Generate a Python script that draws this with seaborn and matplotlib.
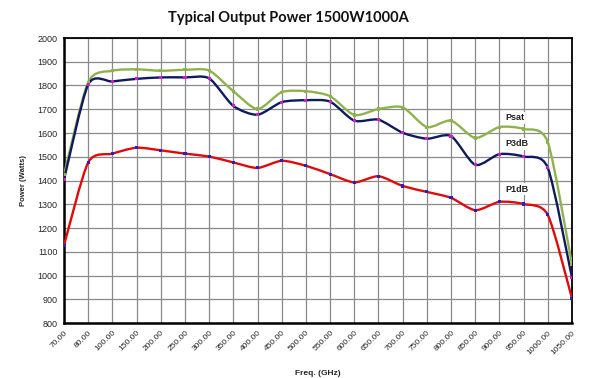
import numpy as np
import pandas as pd
import seaborn as sns
import matplotlib
matplotlib.use("Agg")
import matplotlib.pyplot as plt
from matplotlib.path import Path
from matplotlib.patches import PathPatch

freq_labels = ["70.00", "80.00", "100.00", "150.00", "200.00", "250.00", "300.00",
               "350.00", "400.00", "450.00", "500.00", "550.00", "600.00", "650.00",
               "700.00", "750.00", "800.00", "850.00", "900.00", "950.00", "1000.00",
               "1050.00"]
psat = [1424, 1814, 1862, 1868, 1862, 1866, 1863, 1776, 1701, 1772, 1776, 1755,
        1676, 1701, 1708, 1625, 1652, 1579, 1625, 1617, 1561, 1046]
p3db = [1404, 1804, 1817, 1828, 1834, 1834, 1830, 1714, 1677, 1730, 1738, 1732,
        1652, 1656, 1601, 1576, 1587, 1466, 1511, 1501, 1453, 990]
p1db = [1127, 1476, 1513, 1538, 1527, 1513, 1501, 1476, 1453, 1483, 1462, 1427,
        1392, 1418, 1377, 1352, 1327, 1275, 1310, 1301, 1255, 903]
series_names = ["Psat", "P3dB", "P1dB"]
line_colors = ["#8fb34c", "#0d1a5e", "#e00a0a"]
marker_colors = ["#8fb34c", "#d21ad2", "#2020d0"]
label_pos = [(18.23, 1664), (18.23, 1554), (18.23, 1364)]

sns.set_style("white")
plt.rcParams['font.family'] = ['Liberation Sans', 'DejaVu Sans']

fig = plt.figure(figsize=(6, 3.78), dpi=100)
ax = fig.add_axes([64 / 600, 1 - 323 / 378, (572 - 64) / 600, (323 - 38) / 378])

idx = np.arange(len(freq_labels))
df = pd.concat([pd.DataFrame({"idx": idx, "power": vals, "series": name})
                for name, vals in zip(series_names, [psat, p3db, p1db])])


def smooth_path(xs, ys, k=8.0):
    pts = np.column_stack([xs, ys]).astype(float)
    n = len(pts)
    verts = [pts[0]]
    codes = [Path.MOVETO]
    for i in range(n - 1):
        p0 = pts[i - 1] if i > 0 else pts[i]
        p1 = pts[i]
        p2 = pts[i + 1]
        p3 = pts[i + 2] if i + 2 < n else pts[i + 1]
        c1 = p1 + (p2 - p0) / k
        c2 = p2 - (p3 - p1) / k
        verts += [c1, c2, p2]
        codes += [Path.CURVE4] * 3
    return Path(verts, codes)


for name, col in zip(series_names, line_colors):
    sub = df[df.series == name]
    patch = PathPatch(smooth_path(sub.idx.values, sub.power.values), facecolor="none",
                      edgecolor=col, lw=1.7, zorder=3, capstyle="round", joinstyle="round")
    ax.add_patch(patch)

sns.scatterplot(data=df, x="idx", y="power", hue="series", palette=dict(zip(series_names, marker_colors)),
                s=5, linewidth=0, legend=False, ax=ax, zorder=4, marker="s")

for name, (lx, ly) in zip(series_names, label_pos):
    ax.text(lx, ly, name, fontsize=6.5, fontweight="bold", color="#222222", ha="left", va="center",
            bbox=dict(facecolor="white", edgecolor="none", pad=1.0), zorder=5)

ax.set_xlim(0, len(freq_labels) - 1)
ax.set_ylim(800, 2000)
ax.set_xticks(idx)
ax.set_xticklabels(freq_labels, rotation=45, ha="right", rotation_mode="anchor", fontsize=6)
yt = np.arange(800, 2001, 100)
ax.set_yticks(yt)
ax.set_yticklabels([str(v) for v in yt], fontsize=6.5)
ax.tick_params(axis="both", length=2.5, width=0.8, color="black", pad=2)
ax.grid(True, color="#8a8a8a", lw=0.9)
ax.set_axisbelow(True)
for s in ["left", "bottom"]:
    ax.spines[s].set_linewidth(1.8)
for s in ["top", "right"]:
    ax.spines[s].set_linewidth(1.3)
for s in ax.spines.values():
    s.set_color("black")

ax.set_xlabel("Freq. (GHz)", fontsize=6, fontweight="bold", labelpad=10)
ax.set_ylabel("Power (Watts)", fontsize=5.5, fontweight="bold", labelpad=8)
fig.text(0.48, 0.952, "Typical Output Power 1500W1000A", fontsize=10.5, ha="center", va="center",
         fontweight="bold", color="#111111", family=["Lato", "DejaVu Sans"])

fig.savefig("out.png", dpi=100)
